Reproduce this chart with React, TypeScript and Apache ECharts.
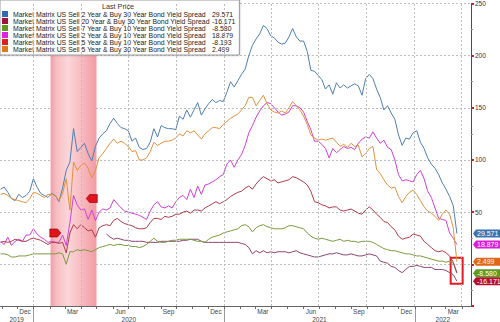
import React, { useEffect, useRef } from "react";
import * as echarts from "echarts";

const DAY = 86400000;
const FONT = "'Liberation Sans', Arial, sans-serif";

// weekly observation dates, first one 30 Oct 2019
const firstDate = Date.UTC(2019, 9, 30);
const weekCount = 126;
const dates = Array.from({ length: weekCount }, (_, i) => firstDate + i * 7 * DAY);

const xMin = Date.UTC(2019, 9, 29);
const xMax = Date.UTC(2022, 3, 19);

const seriesNames = [
  "Market Matrix US Sell 2 Year & Buy 30 Year Bond Yield Spread",
  "Market Matrix US Sell 20 Year & Buy 30 Year Bond Yield Spread",
  "Market Matrix US Sell 7 Year & Buy 10 Year Bond Yield Spread",
  "Market Matrix US Sell 2 Year & Buy 10 Year Bond Yield Spread",
  "Market Matrix US Sell 5 Year & Buy 10 Year Bond Yield Spread",
  "Market Matrix US Sell 5 Year & Buy 30 Year Bond Yield Spread",
];
const lastPrices = ["29.571", "-16.171", "-8.580", "18.879", "-8.193", "2.499"];
const legendColors = ["#2f6db0", "#a3123e", "#5e9a1e", "#e01fe0", "#e0201e", "#e0781c"];
const lineColors = ["#4f7fae", "#8e4470", "#7a9a3c", "#d040d6", "#b03a4a", "#e0923c"];

const s2s30 = [72,74,69,63,61,67,64,66,70,82, 74,68,66,64,68,66,60,73,90,98,
  130,108,112,116,106,99,113,121,125,128, 135,140,135,131,130,128,118,121,112,110,
  111,117,130,122,133,131,130,130,129,142, 139,148,141,148,155,143,149,154,158,155,
  157,156,165,175,170,176,182,187,200,210, 216,221,229,226,219,217,213,211,212,218,
  226,218,214,214,204,186,185,181,177,168, 172,163,174,169,172,169,171,173,171,162,
  178,182,178,168,160,148,152,145,139,124, 114,121,120,126,128,117,111,102,96,92,
  86,78,72,65,56,29.571];

const s20s30Start = 29;
const s20s30 = [29,26,24,25,24,23,23,22,22,22, 22,21,21,21,21,22,22,22,22,22,
  22,23,23,24,24,24,22,21,21,21, 21,21,21,21,21,21,21,20,19,16,
  10,13,11,13,11,12,11,12,12,12, 11,12,13,11,10,9,8,7,7,8,
  9,10,10,11,10,9,9,10,9,8, 8,9,10,9,8,3,2,1,-2,-3,
  -6,-8,-5,-2,-2,-1,-2,-3,-3,-3, -5,-5,-5,-6,-8,-10,-16.171];

const s7s10 = [10,10,9,7,7,8,8,8,9,10, 10,10,10,10,10,10,11,10,0,12,
  12,14,13,14,13,12,14,16,17,18, 19,18,19,19,18,18,17,17,16,17,
  19,22,25,22,21,21,22,23,23,24, 24,24,24,23,22,22,21,24,26,27,
  28,30,31,32,33,34,37,38,36,31, 35,37,38,36,35,34,34,34,35,37,
  37,36,35,34,30,27,25,24,25,24, 23,22,23,24,22,23,22,22,21,22,
  22,22,21,19,17,15,14,13,13,12, 11,10,10,9,8,8,7,6,5,4,
  3,3,2,3,1,-8.58];

const s2s10 = [22,19,26,18,22,24,22,28,28,34, 29,26,24,21,22,21,21,28,18,40,
  66,57,52,53,43,52,42,50,53,52, 54,62,58,54,51,50,49,48,47,45,
  43,51,57,60,55,54,56,54,60,64, 66,62,72,64,75,67,76,77,79,81,
  84,86,96,100,93,100,105,114,126,133, 141,147,152,155,154,150,146,143,144,146,
  152,152,150,146,137,129,118,118,115,111, 102,111,107,110,113,111,112,110,116,120,
  122,121,127,121,116,119,112,110,100,86, 80,81,80,79,86,90,82,70,64,54,
  44,43,42,30,25,18.879];

const s5s10 = [21,22,21,22,24,23,22,22,24,25, 24,23,21,19,21,21,20,21,11,30,
  38,34,38,35,32,33,26,35,37,38, 37,42,44,41,39,38,37,35,34,34,
  35,40,44,44,43,46,45,46,48,48, 50,51,49,52,52,51,54,56,58,60,
  58,60,62,65,67,69,70,73,75,72, 77,81,84,82,80,81,78,79,80,81,
  84,83,81,79,76,70,60,59,57,56, 54,55,55,52,51,52,53,51,49,48,
  52,55,52,48,45,41,40,36,33,27, 24,25,26,29,28,27,22,19,16,13,
  12,13,11,8,2,-8.193];

const s5s30 = [67,68,66,63,62,61,60,59,63,69, 68,66,64,67,67,66,61,68,82,52,
  98,90,95,97,92,83,90,102,106,111, 116,120,116,118,116,113,108,109,100,100,
  102,108,117,114,116,118,118,119,121,125, 123,128,126,128,124,120,125,128,131,131,
  130,134,137,140,142,144,148,152,160,160, 152,157,162,154,148,146,145,147,145,150,
  156,152,148,142,134,124,121,119,120,119, 120,121,117,113,115,112,116,113,114,103,
  106,111,113,91,87,81,76,73,74,65, 59,65,69,71,67,61,55,51,49,46,
  42,48,52,48,35,2.499];

const seriesValues = [s2s30, s20s30, s7s10, s2s10, s5s10, s5s30];
const seriesStarts = [0, s20s30Start, 0, 0, 0, 0];

// quarterly dotted gridlines
const gridDates = ["2020-01-01","2020-04-01","2020-07-01","2020-10-01","2021-01-01",
  "2021-04-01","2021-07-01","2021-10-01","2022-01-01","2022-04-01"];
// month labels (mid month)
const monthLabelDates = ["2019-12-16","2020-03-16","2020-06-16","2020-09-16","2020-12-16",
  "2021-03-16","2021-06-16","2021-09-16","2021-12-16","2022-03-16"];
const monthLabelTexts = ["Dec","Mar","Jun","Sep","Dec","Mar","Jun","Sep","Dec","Mar"];
const yearLabels = ["2019", "2020", "2021", "2022"];

// highlighted period and annotations
const bandStart = "2020-02-03";
const bandEnd = "2020-05-01";
const flagDates = ["2020-02-12", "2020-04-22"];
const flagValues = [30, 63];
const boxDates = ["2022-03-11", "2022-04-03"];
const boxValues = [6.2, -18.6];

// right-hand last price tags: series index, colour
const tagSeries = [0, 3, 5, 2, 1];
const tagColors = ["#3a74b0", "#d81fd8", "#e0661a", "#5e9a22", "#b3122f"];

const ts = (s: string) => Date.parse(s + "T00:00:00Z");

export default function App() {
  const ref = useRef<HTMLDivElement>(null);
  useEffect(() => {
    const chart = echarts.init(ref.current!, null, { renderer: "svg" });
    const bandGradient = new echarts.graphic.LinearGradient(0, 0, 1, 0, [
      { offset: 0, color: "#f29ca5" },
      { offset: 0.12, color: "#f7bcc1" },
      { offset: 0.38, color: "#fbd6d9" },
      { offset: 0.62, color: "#f8c0c5" },
      { offset: 0.88, color: "#f4a7ae" },
      { offset: 1, color: "#f29aa3" },
    ]);
    const lineSeries = seriesNames.map((name, k) => ({
      name,
      type: "line",
      symbol: "none",
      showSymbol: false,
      silent: true,
      z: 3,
      data: seriesValues[k].map((v, i) => [dates[i + seriesStarts[k]], v]),
      itemStyle: { color: legendColors[k] },
      lineStyle: { color: lineColors[k], width: 1 },
      markPoint: k === 3 ? {
        silent: true,
        label: { show: false },
        itemStyle: { color: "#e3131d", borderColor: "#7a0000", borderWidth: 0.6 },
        data: [
          { coord: [ts(flagDates[0]), flagValues[0]], symbol: "path://M0,0L7,0L10,4L7,8L0,8Z", symbolSize: [11, 8] },
          { coord: [ts(flagDates[1]), flagValues[1]], symbol: "path://M3,0L10,0L10,8L3,8L0,4Z", symbolSize: [11, 8] },
        ],
      } : undefined,
      markArea: k === 2 ? {
        silent: true,
        itemStyle: { color: "rgba(0,0,0,0)", borderColor: "#e31b23", borderWidth: 2 },
        data: [[{ coord: [ts(boxDates[0]), boxValues[0]] }, { coord: [ts(boxDates[1]), boxValues[1]] }]],
      } : undefined,
    }));
    const option: any = {
      animation: false,
      textStyle: { fontFamily: FONT },
      grid: { left: 0, right: 29, top: 0, bottom: 16, containLabel: false },
      xAxis: {
        type: "time",
        min: xMin,
        max: xMax,
        axisLine: { show: true, onZero: false, lineStyle: { color: "#666", width: 1 } },
        axisTick: { show: false },
        axisLabel: { show: false },
        splitLine: { show: false },
      },
      yAxis: {
        type: "value",
        position: "right",
        min: -40,
        max: 250,
        splitNumber: 5,
        axisLine: { show: true, lineStyle: { color: "#9b2a2a", width: 1 } },
        axisTick: { show: true, length: 3, lineStyle: { color: "#c42424", width: 2 } },
        minorTick: { show: true, splitNumber: 2, length: 2, lineStyle: { color: "#999" } },
        axisLabel: {
          showMinLabel: false,
          margin: 4,
          fontSize: 6.5,
          fontFamily: FONT,
          color: "#333",
          formatter: (v: number) => (v > 0 ? String(v) : ""),
        },
        splitLine: { show: true, lineStyle: { color: "#bdbdbd", type: [2, 2], width: 1 } },
      },
      legend: {
        show: true,
        left: 0,
        top: 0,
        orient: "vertical",
        icon: "rect",
        itemWidth: 6,
        itemHeight: 6,
        itemGap: 0,
        selectedMode: false,
        padding: [10.5, 4, 2.5, 2],
        backgroundColor: "#fff",
        borderColor: "#9a9a9a",
        borderWidth: 1,
        shadowBlur: 2,
        shadowColor: "rgba(0,0,0,0.25)",
        itemStyle: { borderWidth: 0 },
        data: seriesNames,
        formatter: (name: string) => `{n|${name}}{v|${lastPrices[seriesNames.indexOf(name)]}}`,
        textStyle: {
          fontFamily: FONT,
          fontSize: 6.9,
          color: "#222",
          rich: {
            n: { width: 199, fontFamily: FONT, fontSize: 6.9, lineHeight: 8.1, color: "#222" },
            v: { fontFamily: FONT, fontSize: 6.9, lineHeight: 8.1, color: "#222" },
          },
        },
      },
      series: [
        {
          name: "_background",
          type: "line",
          silent: true,
          z: 1,
          symbol: "none",
          data: [[xMin, null]],
          markArea: {
            silent: true,
            itemStyle: { color: bandGradient },
            data: [[{ xAxis: ts(bandStart) }, { xAxis: ts(bandEnd) }]],
          },
          markLine: {
            silent: true,
            symbol: ["none", "none"],
            label: { show: false },
            lineStyle: { color: "#bdbdbd", type: [2, 2], width: 1 },
            data: gridDates.map((d) => ({ xAxis: ts(d) })),
          },
        },
        ...lineSeries,
      ],
    };
    chart.setOption(option);

    const gx = (t: number) => chart.convertToPixel({ xAxisIndex: 0 }, t) as unknown as number;
    const gy = (v: number) => chart.convertToPixel({ yAxisIndex: 0 }, v) as unknown as number;
    const left = gx(xMin);
    const right = gx(xMax);
    const bottom = gy(-40);
    const els: any[] = [];
    const txt = (x: number, y: number, text: string, size: number, fill: string, align = "center") => ({
      type: "text",
      z: 100,
      x,
      y,
      style: {
        text, fill, fontSize: size, fontFamily: FONT,
        textAlign: align, textVerticalAlign: "middle", align, verticalAlign: "middle",
      },
    });
    els.push(txt(118, 6, "Last Price", 7.2, "#333"));

    // month ticks
    for (let y = 2019, m = 10; y < 2022 || (y === 2022 && m <= 3); m++) {
      if (m > 11) { m = 0; y++; }
      const x = Math.round(gx(Date.UTC(y, m, 1))) + 0.5;
      if (x > left && x < right) {
        els.push({ type: "line", z: 100, shape: { x1: x, y1: bottom, x2: x, y2: bottom + 3 }, style: { stroke: "#666", lineWidth: 1 } });
      }
    }
    monthLabelDates.forEach((d, i) => els.push(txt(gx(ts(d)), bottom + 5.5, monthLabelTexts[i], 6.5, "#444")));
    yearLabels.forEach((yl) => {
      const y = Number(yl);
      const a = Math.max(left, gx(Date.UTC(y, 0, 1)));
      const b = Math.min(right, gx(Date.UTC(y + 1, 0, 1)));
      els.push(txt((a + b) / 2, bottom + 13.5, yl, 6.5, "#444"));
      const sx = Math.round(gx(Date.UTC(y + 1, 0, 1))) + 0.5;
      if (sx < right) {
        els.push({ type: "line", z: 100, shape: { x1: sx, y1: bottom + 3, x2: sx, y2: 322 }, style: { stroke: "#999", lineWidth: 1 } });
      }
    });

    // last price tags on the right axis
    tagSeries.forEach((si, k) => {
      const vals = seriesValues[si];
      const yc = gy(vals[vals.length - 1]);
      const x0 = right + 2;
      els.push({
        type: "polygon", z: 100,
        shape: { points: [[x0, yc], [x0 + 3, yc - 4], [500, yc - 4], [500, yc + 4], [x0 + 3, yc + 4]] },
        style: { fill: tagColors[k] },
      });
      els.push(txt(x0 + 4, yc + 0.3, lastPrices[si], 7, "#fff", "left"));
    });

    chart.setOption({ graphic: { elements: els } });
    return () => chart.dispose();
  }, []);
  return <div ref={ref} style={{ position: "absolute", left: 0, top: 0, width: 500, height: 322 }} />;
}
